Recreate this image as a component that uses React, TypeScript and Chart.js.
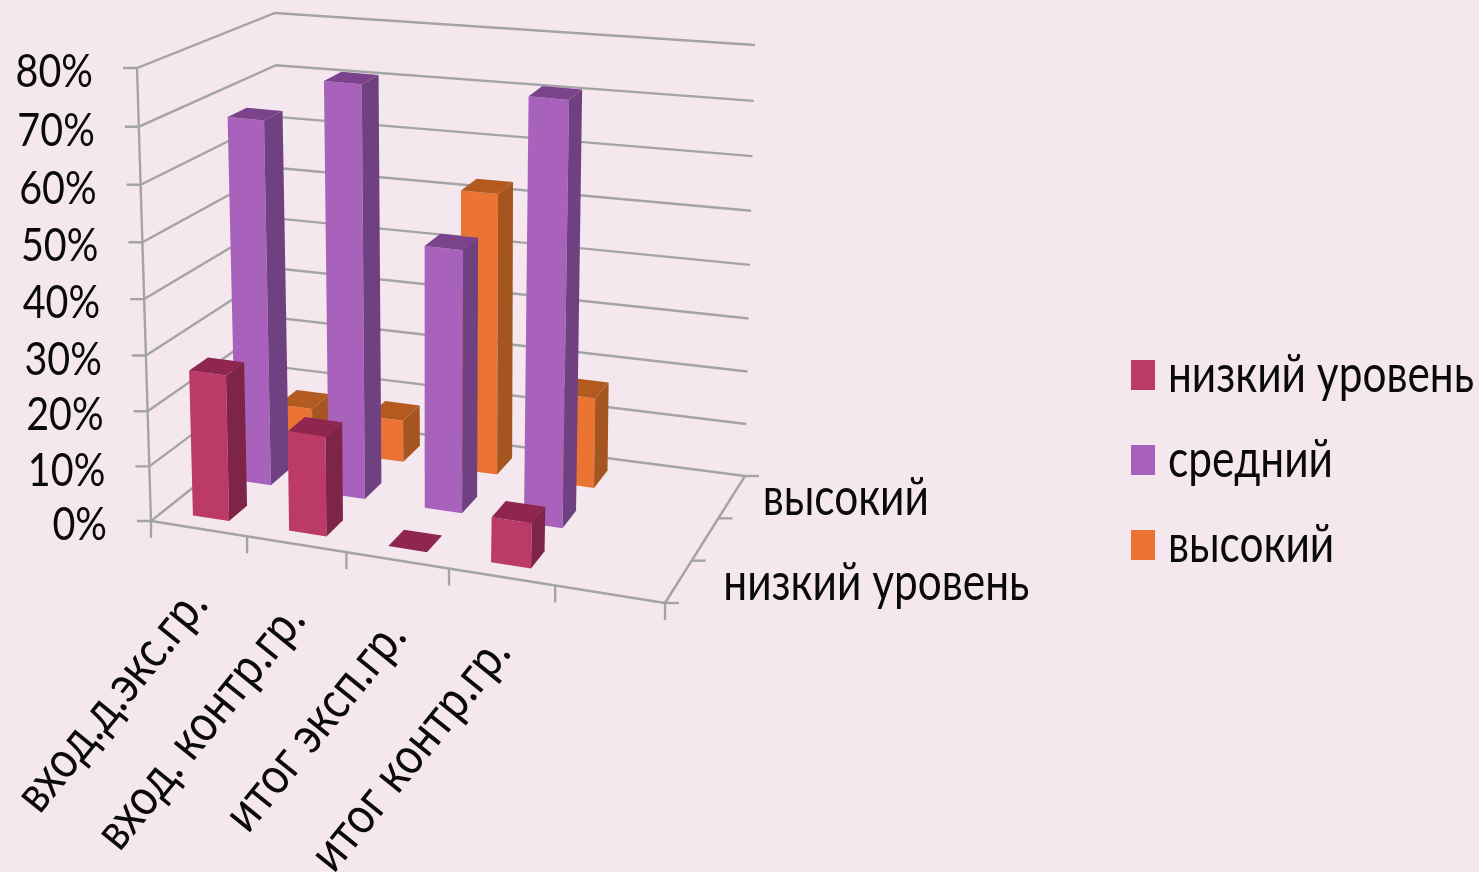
import React, { useEffect, useRef } from "react";
import { Chart, registerables } from "chart.js";

Chart.register(...registerables);

const categories = ["вход.д.экс.гр.", "вход. контр.гр.", "итог эксп.гр.", "итог контр.гр.", ""];
const seriesNames = ["низкий уровень", "средний", "высокий"];
const lowValues = [26.5, 18, 0, 8, null];
const midValues = [67.5, 75.5, 48, 76, null];
const highValues = [8, 8, 53, 17, null];
const depthLabels = ["низкий уровень", "", "высокий"];

const BG = "#F4E8EE";
const GRID = "#A4A4A4";
const INK = "#0A0A0A";
const FONT = "Lato";
const faceColors = ["#BB3A67", "#A962BB", "#EC7432"];
const sideColors = ["#7E2446", "#6F4180", "#A55620"];
const topColors = ["#8E2650", "#7C438D", "#B35A20"];

// corners of the 3D box on screen
const C = {
  fl0: [151, 521], fl1: [137, 68],
  fr0: [665, 603], fr1: [682, 122],
  bl0: [283, 416], bl1: [275, 13],
  br0: [745, 476], br1: [755, 45],
};
const mix = (a: number[], b: number[], t: number) => [a[0] + (b[0] - a[0]) * t, a[1] + (b[1] - a[1]) * t];
const persp = (t: number, k: number) => (k * t) / (1 + (k - 1) * t);
const project = (uRaw: number, vRaw: number, d: number) => {
  const u = persp(uRaw, 0.92), v = persp(vRaw, 0.96);
  const f0 = mix(C.fl0, C.fr0, u), f1 = mix(C.fl1, C.fr1, u);
  const b0 = mix(C.bl0, C.br0, u), b1 = mix(C.bl1, C.br1, u);
  return mix(mix(f0, f1, v), mix(b0, b1, v), d);
};

const poly = (ctx: any, pts: number[][], fill: string) => {
  ctx.beginPath();
  pts.forEach((p, i) => (i ? ctx.lineTo(p[0], p[1]) : ctx.moveTo(p[0], p[1])));
  ctx.closePath();
  ctx.fillStyle = fill;
  ctx.fill();
};
const line = (ctx: any, a: number[], b: number[]) => {
  ctx.beginPath();
  ctx.moveTo(a[0], a[1]);
  ctx.lineTo(b[0], b[1]);
  ctx.stroke();
};
const text = (ctx: any, s: string, x: number, y: number, size: number, align: string, angle = 0, sx = 0.84) => {
  ctx.save();
  ctx.translate(x, y);
  ctx.rotate(angle);
  ctx.scale(sx, 1);
  ctx.font = `${size}px ${FONT}`;
  ctx.fillStyle = INK;
  ctx.textAlign = align;
  ctx.textBaseline = "middle";
  ctx.fillText(s, 0, 0);
  ctx.restore();
};

const box3d = {
  id: "box3d",
  beforeDatasetsDraw(chart: any) {
    const { ctx, chartArea: a, scales } = chart;
    const yS = scales.y, xS = scales.x;
    const V = (val: number) => (a.bottom - yS.getPixelForValue(val)) / (a.bottom - a.top);
    ctx.save();
    ctx.strokeStyle = GRID;
    ctx.lineWidth = 2.4;
    ctx.lineCap = "butt";
    yS.ticks.forEach((t: any) => {
      const v = V(t.value);
      const p0 = project(0, v, 0), p1 = project(0, v, 1), p2 = project(1, v, 1);
      ctx.beginPath();
      ctx.moveTo(p0[0] - 14, p0[1]);
      ctx.lineTo(p0[0], p0[1]);
      ctx.lineTo(p1[0], p1[1]);
      ctx.lineTo(p2[0], p2[1]);
      ctx.stroke();
      text(ctx, t.label, p0[0] - 44, p0[1] + 4, 47, "right");
    });
    line(ctx, project(0, 0, 0), project(0, 1, 0));
    line(ctx, project(0, 0, 0), project(1, 0, 0));
    line(ctx, project(1, 0, 0), project(1, 0, 1));
    const n = xS.ticks.length;
    for (let i = 0; i <= n; i++) {
      const p = project(i / n, 0, 0);
      line(ctx, p, [p[0], p[1] + 17]);
    }
    xS.ticks.forEach((t: any, i: number) => {
      const label = xS.getLabelForValue(t.value);
      if (!label) return;
      const p = project((i + 0.5) / n, 0, 0);
      text(ctx, label, p[0] - 2, p[1] + 66, 52, "right", -0.89, 0.85);
    });
    const rows = depthLabels.length;
    for (let i = 0; i <= rows; i++) {
      const p = project(1, 0, i / rows);
      line(ctx, p, [p[0] + 14, p[1]]);
    }
    depthLabels.forEach((s, i) => {
      if (!s) return;
      const p = project(1, 0, (i + 0.5) / rows);
      text(ctx, s, p[0] + 45 - i * 7, p[1] + 1, 52, "left", 0, 0.815);
    });
    ctx.restore();
  },
  beforeDatasetDraw(chart: any, args: any) {
    const { ctx, chartArea: a } = chart;
    const i = args.index;
    const rows = chart.data.datasets.length;
    const d0 = (i + 0.29) / rows, d1 = (i + 0.72) / rows;
    const W = a.right - a.left, H = a.bottom - a.top;
    const values = chart.data.datasets[i].data;
    args.meta.data.forEach((el: any, k: number) => {
      if (values[k] == null) return;
      const u0 = (el.x - el.width / 2 - a.left) / W, u1 = (el.x + el.width / 2 - a.left) / W;
      const v = (a.bottom - el.y) / H;
      const A = project(u0, 0, d0), B = project(u1, 0, d0), E = project(u1, 0, d1);
      const Dt = project(u0, v, d0), Ct = project(u1, v, d0), Ft = project(u1, v, d1), Gt = project(u0, v, d1);
      poly(ctx, [A, B, Ct, Dt], faceColors[i]);
      poly(ctx, [B, E, Ft, Ct], sideColors[i]);
      poly(ctx, [Dt, Ct, Ft, Gt], topColors[i]);
    });
    return false;
  },
  afterDraw(chart: any) {
    const { ctx } = chart;
    chart.data.datasets.forEach((ds: any, i: number) => {
      const cy = 375 + i * 85;
      ctx.fillStyle = ds.backgroundColor;
      ctx.fillRect(1131, cy - 15, 24, 30);
      text(ctx, ds.label, 1168, cy, 52, "left", 0, 0.815);
    });
  },
};

export default function App() {
  const ref = useRef<HTMLCanvasElement>(null);
  useEffect(() => {
    document.body.style.margin = "0";
    document.body.style.background = BG;
    const chart = new Chart(ref.current as HTMLCanvasElement, {
      type: "bar",
      data: {
        labels: categories,
        datasets: [lowValues, midValues, highValues].map((data, i) => ({
          label: seriesNames[i],
          data,
          backgroundColor: faceColors[i],
          grouped: false,
          categoryPercentage: 0.38,
          barPercentage: 1,
        })),
      } as any,
      options: {
        animation: false,
        responsive: false,
        scales: {
          x: { display: false, grid: { display: false } },
          y: {
            display: false,
            min: 0,
            max: 80,
            ticks: { stepSize: 10, callback: (v: any) => `${v}%` },
          },
        },
        plugins: {
          tooltip: { enabled: false },
          legend: { display: false },
        },
      } as any,
      plugins: [box3d],
    });
    return () => chart.destroy();
  }, []);
  return (
    <div style={{ position: "fixed", inset: 0, background: BG, overflow: "hidden" }}>
      <canvas ref={ref} width={1479} height={872} style={{ display: "block" }} />
    </div>
  );
}
